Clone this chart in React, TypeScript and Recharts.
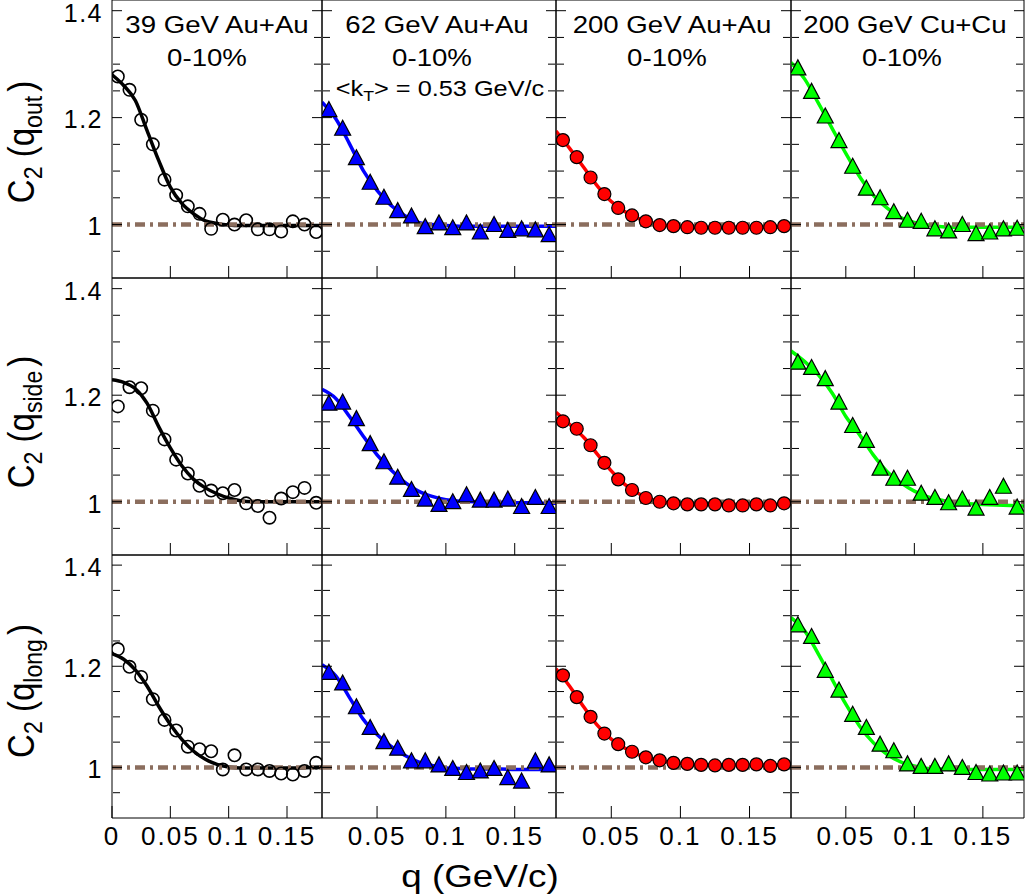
import React from "react";
import { ComposedChart, Line, Scatter, XAxis, YAxis, ReferenceLine } from "recharts";

// q bin centres (GeV/c)
const q39 = [0.005, 0.015, 0.025, 0.035, 0.045, 0.055, 0.065, 0.075, 0.085, 0.095, 0.105, 0.115, 0.125, 0.135, 0.145, 0.155, 0.165, 0.175];
const qBins = [0.015, 0.025, 0.035, 0.045, 0.055, 0.065, 0.075, 0.085, 0.095, 0.105, 0.115, 0.125, 0.135, 0.145, 0.155, 0.165, 0.175];
// q values where the fit curves were read
const qFit39 = [0, 0.01, 0.02, 0.03, 0.04, 0.05, 0.06, 0.07, 0.08, 0.09, 0.1, 0.11, 0.12, 0.13, 0.14, 0.15, 0.16, 0.17, 0.18];
const qFit = [0.01, 0.02, 0.03, 0.04, 0.05, 0.06, 0.07, 0.08, 0.09, 0.1, 0.11, 0.12, 0.13, 0.14, 0.15, 0.16, 0.17, 0.18];

const xMajorTicks = [0.05, 0.1, 0.15];
const xMinorTicks = [0.01, 0.02, 0.03, 0.04, 0.06, 0.07, 0.08, 0.09, 0.11, 0.12, 0.13, 0.14, 0.16, 0.17];
const xLabels39 = [0, 0.05, 0.1, 0.15];
const xLabels = [0.05, 0.1, 0.15];
const yMajorTicks = [1, 1.2, 1.4];
const yMinorTicks = [0.95, 1.05, 1.1, 1.15, 1.25, 1.3, 1.35];

const systems = ["39 GeV Au+Au", "62 GeV Au+Au", "200 GeV Au+Au", "200 GeV Cu+Cu"];
const centrality = "0-10%";
const projections = ["out", "side", "long"];

// C2(q_out)
const outAu39 = [1.277, 1.252, 1.196, 1.15, 1.084, 1.055, 1.034, 1.02, 0.992, 1.009, 1.0, 1.008, 0.991, 0.991, 0.987, 1.006, 1.0, 0.986];
const outAu39Fit = [1.28, 1.26, 1.232, 1.176, 1.12, 1.07, 1.039, 1.02, 1.007, 1.002, 0.999, 0.998, 0.998, 0.998, 0.998, 0.998, 0.998, 0.998, 0.998];
const outAu62 = [1.216, 1.181, 1.126, 1.08, 1.052, 1.027, 1.017, 0.997, 1.004, 0.995, 1.004, 0.987, 1.001, 0.99, 0.993, 0.991, 0.982];
const outAu62Fit = [1.229, 1.198, 1.151, 1.101, 1.064, 1.036, 1.017, 1.004, 1.0, 0.998, 0.997, 0.997, 0.997, 0.997, 0.997, 0.997, 0.997, 0.997];
const outAu200 = [1.158, 1.126, 1.088, 1.057, 1.031, 1.017, 1.006, 0.999, 0.997, 0.995, 0.994, 0.994, 0.994, 0.994, 0.994, 0.995, 0.997];
const outAu200Fit = [1.175, 1.142, 1.107, 1.072, 1.043, 1.024, 1.011, 1.003, 0.998, 0.996, 0.995, 0.995, 0.995, 0.995, 0.995, 0.995, 0.995, 0.996];
const outCu200 = [1.294, 1.25, 1.204, 1.158, 1.11, 1.069, 1.051, 1.025, 1.009, 1.007, 0.993, 0.989, 1.001, 0.984, 0.987, 0.993, 0.994];
const outCu200Fit = [1.303, 1.272, 1.227, 1.18, 1.133, 1.09, 1.055, 1.031, 1.013, 1.004, 0.999, 0.996, 0.995, 0.995, 0.995, 0.995, 0.995, 0.995];

// C2(q_side)
const sideAu39 = [1.179, 1.215, 1.213, 1.171, 1.117, 1.079, 1.053, 1.03, 1.021, 1.016, 1.022, 0.997, 0.992, 0.97, 1.006, 1.018, 1.026, 0.998];
const sideAu39Fit = [1.229, 1.224, 1.212, 1.185, 1.141, 1.101, 1.067, 1.042, 1.026, 1.015, 1.007, 1.002, 1.0, 1.0, 1.0, 1.0, 1.0, 1.0, 1.0];
const sideAu62 = [1.186, 1.188, 1.157, 1.11, 1.076, 1.047, 1.024, 1.006, 0.996, 1.001, 1.014, 1.004, 1.004, 1.006, 0.992, 1.009, 0.992];
const sideAu62Fit = [1.211, 1.194, 1.16, 1.123, 1.088, 1.06, 1.037, 1.02, 1.01, 1.004, 1.001, 1.0, 0.999, 0.999, 0.998, 0.998, 0.997, 0.997];
const sideAu200 = [1.151, 1.137, 1.106, 1.073, 1.042, 1.022, 1.007, 1.0, 0.997, 0.995, 0.995, 0.995, 0.993, 0.993, 0.995, 0.993, 0.997];
const sideAu200Fit = [1.168, 1.145, 1.121, 1.089, 1.058, 1.032, 1.015, 1.004, 0.998, 0.996, 0.995, 0.995, 0.995, 0.995, 0.995, 0.995, 0.995, 0.996];
const sideCu200 = [1.263, 1.253, 1.232, 1.188, 1.144, 1.116, 1.064, 1.045, 1.045, 1.017, 1.009, 0.999, 1.006, 0.989, 1.009, 1.03, 0.991];
const sideCu200Fit = [1.283, 1.263, 1.238, 1.204, 1.16, 1.126, 1.088, 1.057, 1.036, 1.02, 1.009, 1.003, 0.998, 0.996, 0.995, 0.994, 0.993, 0.992];

// C2(q_long)
const longAu39 = [1.234, 1.199, 1.179, 1.135, 1.094, 1.073, 1.041, 1.036, 1.032, 0.996, 1.024, 0.996, 0.996, 0.993, 0.988, 0.986, 0.993, 1.009];
const longAu39Fit = [1.225, 1.214, 1.193, 1.161, 1.121, 1.085, 1.055, 1.032, 1.016, 1.006, 1.001, 0.999, 0.999, 0.999, 0.999, 0.999, 0.999, 1.0, 1.001];
const longAu62 = [1.189, 1.168, 1.121, 1.08, 1.052, 1.039, 1.014, 1.014, 1.006, 0.999, 0.991, 0.994, 0.999, 0.981, 0.974, 1.014, 1.006];
const longAu62Fit = [1.203, 1.181, 1.138, 1.095, 1.065, 1.042, 1.024, 1.011, 1.004, 0.999, 0.998, 0.997, 0.997, 0.997, 0.996, 0.996, 0.996, 0.996];
const longAu200 = [1.182, 1.139, 1.1, 1.067, 1.046, 1.031, 1.02, 1.014, 1.009, 1.007, 1.005, 1.004, 1.005, 1.005, 1.006, 1.003, 1.006];
const longAu200Fit = [1.195, 1.16, 1.12, 1.083, 1.056, 1.038, 1.025, 1.016, 1.011, 1.008, 1.006, 1.005, 1.005, 1.005, 1.005, 1.005, 1.005, 1.005];
const longCu200 = [1.283, 1.26, 1.193, 1.154, 1.106, 1.08, 1.047, 1.034, 1.008, 1.003, 1.003, 1.008, 1.001, 0.991, 0.988, 0.99, 0.99];
const longCu200Fit = [1.296, 1.27, 1.224, 1.174, 1.125, 1.082, 1.049, 1.026, 1.011, 1.003, 0.998, 0.997, 0.996, 0.996, 0.996, 0.996, 0.996, 0.996];

const points = [
  [outAu39, outAu62, outAu200, outCu200],
  [sideAu39, sideAu62, sideAu200, sideCu200],
  [longAu39, longAu62, longAu200, longCu200],
];
const fits = [
  [outAu39Fit, outAu62Fit, outAu200Fit, outCu200Fit],
  [sideAu39Fit, sideAu62Fit, sideAu200Fit, sideCu200Fit],
  [longAu39Fit, longAu62Fit, longAu200Fit, longCu200Fit],
];

const FONT = "'Liberation Sans', Arial, Helvetica, sans-serif";
const STRETCH = 1.15; // glyphs in the figure are a bit wide
const colX = [112, 322, 556, 791, 1024];
const rowY = [0, 278, 555, 818];
const colors = ["#000000", "#0000ff", "#ff0000", "#00ff00"];
const BROWN = "#8b6e5e";

const openCircle = (p: any) =>
  p.cx == null ? <g /> : <circle cx={p.cx} cy={p.cy} r={6.2} fill="none" stroke="#000" strokeWidth={1.6} />;

const filledCircle = (color: string) => (p: any) =>
  p.cx == null ? <g /> : <circle cx={p.cx} cy={p.cy} r={6.5} fill={color} stroke="#000" strokeWidth={1.2} />;

const triangle = (color: string) => (p: any) =>
  p.cx == null ? (
    <g />
  ) : (
    <polygon
      points={`${p.cx},${p.cy - 7.5} ${p.cx - 8},${p.cy + 7.5} ${p.cx + 8},${p.cy + 7.5}`}
      fill={color}
      stroke="#000"
      strokeWidth={1.2}
    />
  );

const shapes = [openCircle, triangle(colors[1]), filledCircle(colors[2]), triangle(colors[3])];

// the y = 1 dash-dot baseline
const baseline = (p: any) => (
  <line x1={p.x1} y1={p.y1} x2={p.x2} y2={p.y2} stroke={BROWN} strokeWidth={4.5} strokeDasharray="10 5 3 5" />
);

// tick marks only, no text
const NoLabel = () => <g />;

function XTick(props: any) {
  const { x, y, payload } = props;
  return (
    <text x={x} y={y} textAnchor="middle" dy="0.71em" fontSize={26} letterSpacing={2} fontFamily={FONT} fill="#000">
      {String(payload.value)}
    </text>
  );
}

function YTick(props: any) {
  const { x, y, payload } = props;
  return (
    <text x={x} y={y + 2} textAnchor="end" dy="0.355em" fontSize={25} letterSpacing={1.5} fontFamily={FONT} fill="#000">
      {String(payload.value)}
    </text>
  );
}

function Panel({ row, col }: { row: number; col: number }) {
  const first = col === 0;
  const bottom = row === 2;
  const labelW = first ? colX[0] : 0;
  const labelH = bottom ? 70 : 0;
  const padTop = first ? 14 : 0; // room above the plot for the top tick label
  const plotW = colX[col + 1] - colX[col];
  const plotH = rowY[row + 1] - rowY[row];
  const qp = first ? q39 : qBins;
  const qf = first ? qFit39 : qFit;
  const pts = qp.map((q, i) => ({ q, c: points[row][col][i] }));
  const fit = qf.map((q, i) => ({ q, c: fits[row][col][i] }));
  const xDomain = [first ? 0 : 0.01, 0.18];
  const yDomain = [0.9, 1.42];
  const common = { type: "number" as const, domain: xDomain, allowDataOverflow: true, interval: 0 as const, stroke: "#000", mirror: true, height: 1 };
  const commonY = { type: "number" as const, domain: yDomain, allowDataOverflow: true, interval: 0 as const, stroke: "#000", mirror: true, width: 1 };

  return (
    <div style={{ position: "absolute", left: colX[col] - 1 - labelW, top: rowY[row] - 1 - padTop }}>
      <ComposedChart
        width={plotW + 2 + labelW}
        height={plotH + 2 + labelH + padTop}
        margin={{ top: 1 + padTop, right: 1, bottom: 1 + labelH, left: 1 }}
      >
        <XAxis
          xAxisId="x"
          dataKey="q"
          orientation="bottom"
          ticks={bottom ? (first ? xLabels39 : xLabels) : xMajorTicks}
          tickSize={12}
          tickMargin={-21}
          tick={bottom ? (p: any) => <XTick {...p} /> : NoLabel}
          {...common}
        />
        <XAxis xAxisId="xm" orientation="bottom" ticks={xMinorTicks} tickSize={6} axisLine={false} tick={NoLabel} {...common} />
        <XAxis xAxisId="xt" orientation="top" ticks={xMajorTicks} tickSize={12} tick={NoLabel} {...common} />
        <XAxis xAxisId="xtm" orientation="top" ticks={xMinorTicks} tickSize={6} axisLine={false} tick={NoLabel} {...common} />
        {first && (
          <YAxis
            yAxisId="yl"
            orientation="left"
            width={labelW}
            type="number"
            domain={yDomain}
            allowDataOverflow
            interval={0}
            ticks={yMajorTicks}
            tickLine={false}
            axisLine={false}
            tickSize={0}
            tickMargin={9}
            tick={(p: any) => <YTick {...p} />}
          />
        )}
        <YAxis yAxisId="y" dataKey="c" orientation="left" ticks={yMajorTicks} tickSize={10} tick={NoLabel} {...commonY} />
        <YAxis yAxisId="ym" orientation="left" ticks={yMinorTicks} tickSize={7} axisLine={false} tick={NoLabel} {...commonY} />
        <YAxis yAxisId="yr" orientation="right" ticks={yMajorTicks} tickSize={10} tick={NoLabel} {...commonY} />
        <YAxis yAxisId="yrm" orientation="right" ticks={yMinorTicks} tickSize={7} axisLine={false} tick={NoLabel} {...commonY} />
        <Line
          xAxisId="x"
          yAxisId="y"
          data={fit}
          dataKey="c"
          type="monotone"
          stroke={colors[col]}
          strokeWidth={3.5}
          dot={false}
          activeDot={false}
          isAnimationActive={false}
        />
        <Scatter xAxisId="x" yAxisId="y" data={pts} dataKey="c" shape={shapes[col]} isAnimationActive={false} />
        <ReferenceLine xAxisId="x" yAxisId="y" y={1} shape={baseline} />
      </ComposedChart>
    </div>
  );
}

const centered = (x: number, y: number, size: number, extra = ""): React.CSSProperties => ({
  position: "absolute",
  left: x,
  top: y,
  fontSize: size,
  lineHeight: 1,
  whiteSpace: "nowrap",
  color: "#000",
  fontFamily: FONT,
  transform: `translate(-50%,-50%) ${extra || `scaleX(${STRETCH})`}`,
});

const sub: React.CSSProperties = { fontSize: "0.7em", position: "relative", top: "0.35em" };

const titleX = [217, 437, 672, 905];
const centX = [207, 432, 667, 902];
const yTitleY = [142, 422, 691];

export default function App() {
  return (
    <div style={{ position: "absolute", left: 0, top: 0, width: 1029, height: 896, background: "#fff", overflow: "hidden" }}>
      {[0, 1, 2].map((r) => [0, 1, 2, 3].map((c) => <Panel key={`${r}-${c}`} row={r} col={c} />))}
      {systems.map((s, i) => (
        <div key={s} style={centered(titleX[i], 25, 24)}>
          {s}
        </div>
      ))}
      {systems.map((s, i) => (
        <div key={`c${i}`} style={centered(centX[i], 58, 24)}>
          {centrality}
        </div>
      ))}
      <div style={centered(440, 89, 22)}>
        {"<k"}
        <span style={sub}>T</span>
        {"> = 0.53 GeV/c"}
      </div>
      {projections.map((p, i) => (
        <div key={p} style={centered(21, yTitleY[i], 33, "rotate(-90deg) scaleY(1.1)")}>
          C<span style={sub}>2</span> (q<span style={sub}>{p}</span>
          <span style={{ marginLeft: 4 }}>)</span>
        </div>
      ))}
      <div style={centered(480, 876, 32)}>q (GeV/c)</div>
    </div>
  );
}
